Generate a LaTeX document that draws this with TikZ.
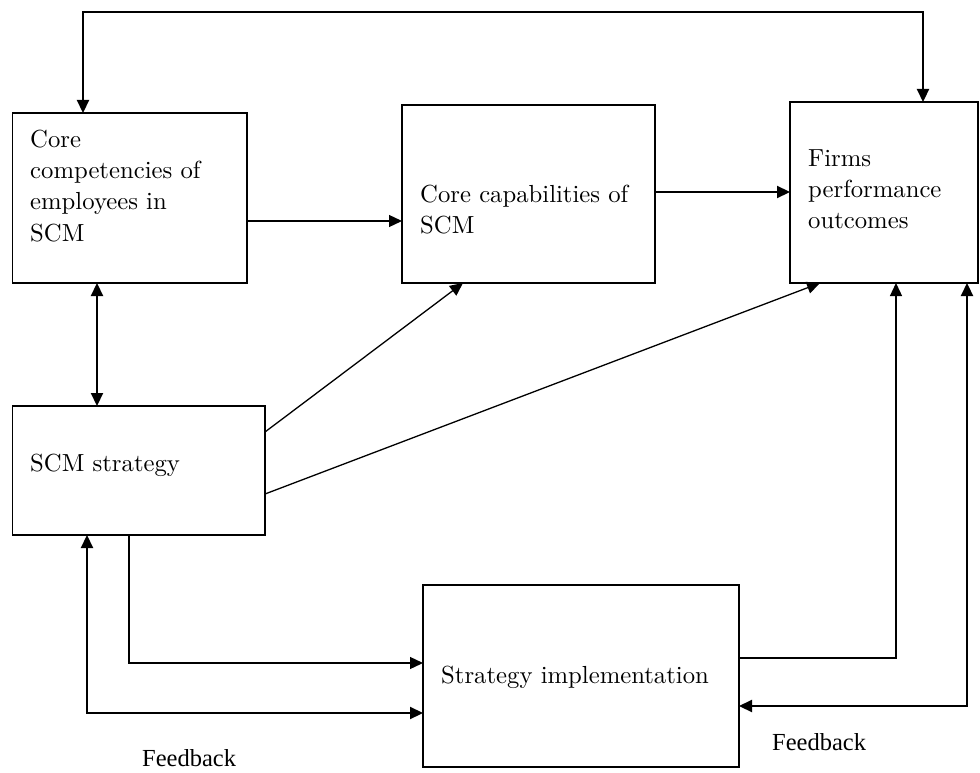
\documentclass[tikz,border=0pt]{standalone}
\usepackage{fontspec}
\setmainfont{lmroman10-regular.otf}
\newfontfamily\fbfont{Liberation Serif}
\usetikzlibrary{arrows.meta}
\begin{document}
\begin{tikzpicture}[x=1pt,y=-1pt,
  box/.style={draw,line width=1.5pt,rectangle,inner sep=0pt,outer sep=0pt,anchor=north west},
  txt/.style={anchor=base west,inner sep=0pt,font=\fontsize{24.7}{31}\selectfont},
  fbtxt/.style={anchor=base west,inner sep=0pt,font=\fbfont\fontsize{24.5}{30}\selectfont},
  thinline/.style={line width=1.3pt},
  thickline/.style={line width=2.2pt},
  tipone/.style={-{Triangle[length=13pt,width=12pt]}},
  tipboth/.style={{Triangle[length=13pt,width=12pt]}-{Triangle[length=13pt,width=12pt]}}
]
\useasboundingbox (0,0) rectangle (980,773);
% boxes
\node[box,minimum width=234.3pt,minimum height=170pt] (A) at (12.7,113) {};
\node[box,minimum width=253pt,minimum height=178pt] (B) at (402,105) {};
\node[box,minimum width=188pt,minimum height=181pt] (C) at (790,102) {};
\node[box,minimum width=252.3pt,minimum height=129pt] (D) at (12.7,406) {};
\node[box,minimum width=316pt,minimum height=182pt] (E) at (423,585) {};
% texts
\node[txt] (tA) at (30,148) {\vtop{\hbox{Core}\hbox{competencies of}\hbox{employees in}\hbox{SCM}}};
\node[txt] (tB) at (420,202) {\vtop{\hbox{Core capabilities of}\hbox{SCM}}};
\node[txt] (tC) at (808,167) {\vtop{\hbox{Firms}\hbox{performance}\hbox{outcomes}}};
\node[txt] (tD) at (30,471) {SCM strategy};
\node[txt] (tE) at (441,683) {Strategy implementation};
\node[fbtxt] (fb1) at (142,766) {Feedback};
\node[fbtxt] (fb2) at (772,750) {Feedback};
% helper coordinates
\coordinate (top) at (0,12);
\coordinate (xL) at (83,0);
\coordinate (xR) at (923,0);
\coordinate (yAB) at (0,221);
\coordinate (yBC) at (0,192);
\coordinate (x97) at (97,0);
\coordinate (y432) at (0,432);
\coordinate (x463) at (463,0);
\coordinate (y494) at (0,494);
\coordinate (x820) at (820,0);
\coordinate (x129) at (129,0);
\coordinate (y663) at (0,663);
\coordinate (x87) at (87,0);
\coordinate (y713) at (0,713);
\coordinate (y658) at (0,658);
\coordinate (x896) at (896,0);
\coordinate (x967) at (967,0);
\coordinate (y706) at (0,706);
% connectors
\draw[thickline,tipboth] (A.north -| xL) -- (xL |- top) -- (xR |- top) -- (C.north -| xR);
\draw[thinline,tipone] (A.east |- yAB) -- (B.west |- yAB);
\draw[thickline,tipone] (B.east |- yBC) -- (C.west |- yBC);
\draw[thickline,tipboth] (A.south -| x97) -- (D.north -| x97);
\draw[thinline,tipone] (D.east |- y432) -- (B.south -| x463);
\draw[thinline,tipone] (D.east |- y494) -- (C.south -| x820);
\draw[thinline,tipone] (D.south -| x129) -- (x129 |- y663) -- (E.west |- y663);
\draw[thickline,tipboth] (D.south -| x87) -- (x87 |- y713) -- (E.west |- y713);
\draw[thinline,tipone] (E.east |- y658) -- (x896 |- y658) -- (C.south -| x896);
\draw[thickline,tipboth] (C.south -| x967) -- (x967 |- y706) -- (E.east |- y706);
\end{tikzpicture}
\end{document}
